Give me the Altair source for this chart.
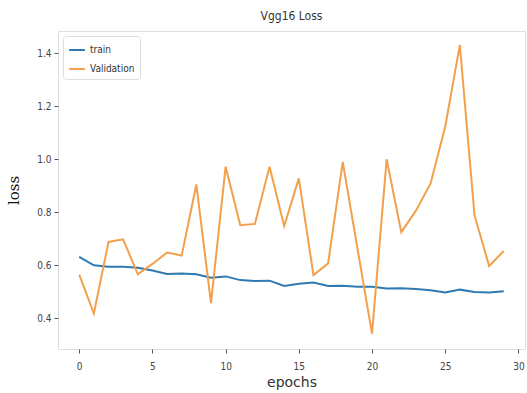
import altair as alt
import pandas as pd

epochs = list(range(30))
train = [0.632, 0.600, 0.594, 0.594, 0.591, 0.580, 0.567, 0.569, 0.566, 0.553,
         0.558, 0.544, 0.541, 0.542, 0.522, 0.530, 0.535, 0.522, 0.523, 0.519,
         0.519, 0.512, 0.513, 0.510, 0.506, 0.497, 0.508, 0.499, 0.497, 0.502]
validation = [0.565, 0.418, 0.688, 0.698, 0.566, 0.605, 0.648, 0.637, 0.905, 0.457,
              0.972, 0.751, 0.756, 0.972, 0.748, 0.928, 0.563, 0.607, 0.990, 0.665,
              0.342, 1.000, 0.725, 0.806, 0.909, 1.123, 1.431, 0.789, 0.597, 0.654]
series = ["train", "Validation"]
colors = ["#2f7ab3", "#f2a04c"]

rows = []
for i, e in enumerate(epochs):
    rows.append({"epoch": e, "loss": train[i], "series": series[0]})
    rows.append({"epoch": e, "loss": validation[i], "series": series[1]})
df = pd.DataFrame(rows)

tick_font = "DejaVu Sans Condensed"

chart = alt.Chart(df).mark_line(strokeWidth=2).encode(
    x=alt.X("epoch:Q", scale=alt.Scale(domain=[-1.45, 30.45], nice=False, zero=False),
            axis=alt.Axis(title="epochs", values=[0, 5, 10, 15, 20, 25, 30], format="d",
                          grid=False, tickSize=4, labelPadding=8, titlePadding=4,
                          labelFont=tick_font, labelFontSize=10, labelColor="#444",
                          titleFont="DejaVu Sans", titleFontSize=14, titleFontWeight="normal",
                          titleColor="#333", domain=False, tickColor="#555")),
    y=alt.Y("loss:Q", scale=alt.Scale(domain=[0.284, 1.484], nice=False, zero=False),
            axis=alt.Axis(title="loss", values=[0.4, 0.6, 0.8, 1.0, 1.2, 1.4], format=".1f",
                          grid=False, tickSize=4, labelPadding=3, titlePadding=15,
                          labelFont=tick_font, labelFontSize=10, labelColor="#444",
                          titleFont="DejaVu Serif", titleFontSize=15, titleFontWeight="normal",
                          titleColor="#111", domain=False, tickColor="#555")),
    color=alt.Color("series:N", scale=alt.Scale(domain=series, range=colors),
                    sort=series,
                    legend=alt.Legend(title=None, orient="top-left", offset=5,
                                      symbolType="stroke", symbolStrokeWidth=2, symbolSize=250,
                                      labelFont=tick_font, labelFontSize=10, labelColor="#333",
                                      strokeColor="#ddd", fillColor="white", padding=5,
                                      cornerRadius=3, rowPadding=5)),
).properties(
    width=467, height=318,
    title=alt.Title("Vgg16 Loss", font=tick_font, fontSize=12, fontWeight="normal",
                    color="#333", offset=8),
    padding={"left": 58, "top": 31, "right": 2, "bottom": 44},
    autosize=alt.AutoSizeParams(type="none"),
).configure_view(
    stroke="#555", strokeWidth=1.5
).configure(background="white")

chart.save("out.html", embed_options={"renderer": "svg", "actions": False})
